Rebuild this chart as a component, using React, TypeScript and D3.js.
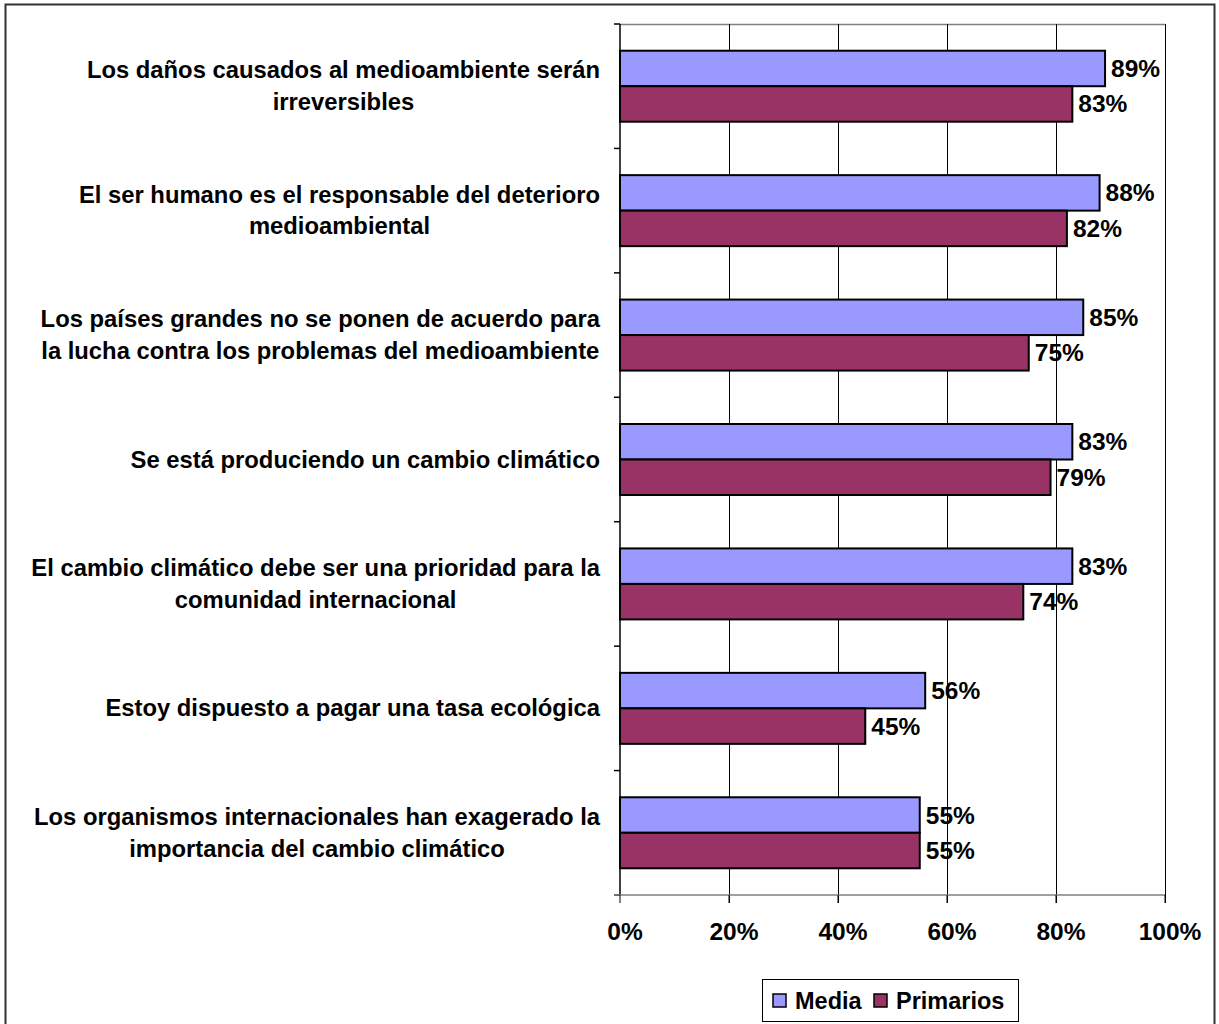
import React, { useEffect, useRef } from "react";
import * as d3 from "d3";

const categories: string[][] = [
  ["Los daños causados al medioambiente serán", "irreversibles"],
  ["El ser humano es el responsable del deterioro", "medioambiental"],
  ["Los países grandes no se ponen de acuerdo para", "la lucha contra los problemas del medioambiente"],
  ["Se está produciendo un cambio climático"],
  ["El cambio climático debe ser una prioridad para la", "comunidad internacional"],
  ["Estoy dispuesto a pagar una tasa ecológica"],
  ["Los organismos internacionales han exagerado la", "importancia del cambio climático"],
];
const seriesNames = ["Media", "Primarios"];
const mediaValues = [89, 88, 85, 83, 83, 56, 55];
const primariosValues = [83, 82, 75, 79, 74, 45, 55];
const xTicks = [0, 20, 40, 60, 80, 100];
const colors = ["#9999FF", "#993366"];

const W = 1219;
const H = 1024;
const FONT = "'Liberation Sans', Arial, sans-serif";

export default function App() {
  const ref = useRef<SVGSVGElement | null>(null);

  useEffect(() => {
    const svg = d3.select(ref.current);
    svg.selectAll("*").remove();

    const left = 620, right = 1165, top = 24, bottom = 895;
    const x = d3.scaleLinear().domain([0, 100]).range([left, right]);
    const y = d3.scaleBand<number>().domain(d3.range(categories.length)).range([top, bottom]);
    const bw = 35.5;

    // outer border
    svg.append("rect").attr("x", 5.5).attr("y", 4.5).attr("width", 1209).attr("height", 1030)
      .attr("fill", "white").attr("stroke", "#333").attr("stroke-width", 2);

    // plot top line
    svg.append("line").attr("x1", left).attr("x2", right).attr("y1", top + 0.5).attr("y2", top + 0.5)
      .attr("stroke", "#808080").attr("stroke-width", 1.5);

    // gridlines
    svg.selectAll(".grid").data(xTicks.slice(1)).enter().append("line")
      .attr("x1", d => Math.round(x(d)) + 0.5).attr("x2", d => Math.round(x(d)) + 0.5)
      .attr("y1", top).attr("y2", bottom + 8)
      .attr("stroke", "#000").attr("stroke-width", 1);

    // bars
    const data = categories.map((c, i) => ({ i, vals: [mediaValues[i], primariosValues[i]] }));
    const g = svg.append("g");
    data.forEach(d => {
      const cy = (y(d.i) as number) + y.bandwidth() / 2;
      d.vals.forEach((v, s) => {
        const y0 = cy - bw + s * bw;
        g.append("rect").attr("x", x(0)).attr("y", y0).attr("width", x(v) - x(0)).attr("height", bw)
          .attr("fill", colors[s]).attr("stroke", "#000").attr("stroke-width", 2);
        g.append("text").attr("x", x(v) + 6).attr("y", y0 + bw / 2 + 8.5)
          .attr("font-family", FONT).attr("font-weight", "bold").attr("font-size", 24.5)
          .attr("fill", "#000").text(v + "%");
      });
    });

    // y axis
    svg.append("line").attr("x1", left).attr("x2", left).attr("y1", top).attr("y2", bottom)
      .attr("stroke", "#000").attr("stroke-width", 1.5);
    const bounds = d3.range(categories.length + 1).map(i => top + i * y.step());
    svg.selectAll(".ytick").data(bounds).enter().append("line")
      .attr("x1", left - 6).attr("x2", left).attr("y1", d => d).attr("y2", d => d)
      .attr("stroke", "#000").attr("stroke-width", 1.5);
    // x axis
    svg.append("line").attr("x1", left - 6).attr("x2", right).attr("y1", bottom).attr("y2", bottom)
      .attr("stroke", "#808080").attr("stroke-width", 1.5);
    svg.selectAll(".xtick").data(xTicks).enter().append("line")
      .attr("x1", d => x(d)).attr("x2", d => x(d)).attr("y1", bottom).attr("y2", bottom + 8)
      .attr("stroke", "#000").attr("stroke-width", 1);
    svg.selectAll(".xlab").data(xTicks).enter().append("text")
      .attr("x", d => x(d) + 5).attr("y", 940).attr("text-anchor", "middle")
      .attr("font-family", FONT).attr("font-weight", "bold").attr("font-size", 24.5)
      .text(d => d + "%");

    // category labels
    categories.forEach((lines, i) => {
      const cy = (y(i) as number) + y.bandwidth() / 2;
      const lh = 31.5;
      const t = svg.append("text").attr("font-family", FONT).attr("font-weight", "bold")
        .attr("font-size", 23.8).attr("text-anchor", "middle").attr("fill", "#000");
      const tspans = lines.map((l, k) =>
        t.append("tspan").attr("x", 0).attr("y", cy + 8 + (k - (lines.length - 1) / 2) * lh).text(l));
      let maxW = 0;
      tspans.forEach(ts => { maxW = Math.max(maxW, (ts.node() as SVGTSpanElement).getComputedTextLength()); });
      const cx = 600 - maxW / 2;
      tspans.forEach(ts => ts.attr("x", cx));
    });

    // legend
    const lg = svg.append("g");
    lg.append("rect").attr("x", 762.5).attr("y", 979.5).attr("width", 256).attr("height", 42)
      .attr("fill", "white").attr("stroke", "#000").attr("stroke-width", 1);
    const items = [{ x: 773, tx: 795 }, { x: 874, tx: 896 }];
    seriesNames.forEach((n, s) => {
      lg.append("rect").attr("x", items[s].x).attr("y", 994).attr("width", 13).attr("height", 13)
        .attr("fill", colors[s]).attr("stroke", "#000").attr("stroke-width", 1.5);
      lg.append("text").attr("x", items[s].tx).attr("y", 1009)
        .attr("font-family", FONT).attr("font-weight", "bold").attr("font-size", 23.5).text(n);
    });
  }, []);

  return (
    <svg ref={ref} width={W} height={H} style={{ position: "absolute", left: 0, top: 0, background: "white" }} />
  );
}
